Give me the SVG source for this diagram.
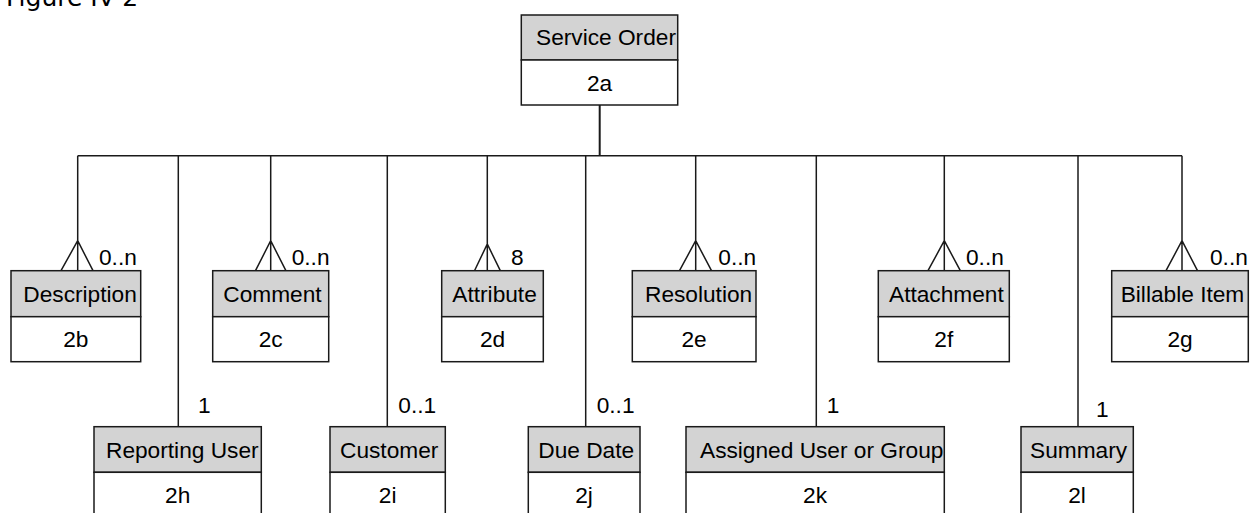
<svg xmlns="http://www.w3.org/2000/svg" width="1250" height="513" viewBox="0 0 1250 513">
<style>
.hd{fill:#d3d3d3;stroke:#1a1a1a;stroke-width:1.5}
.bd{fill:#fff;stroke:#1a1a1a;stroke-width:1.5}
.t{font-family:"Liberation Sans",Arial,sans-serif;font-size:22.7px;fill:#000}
.c{text-anchor:middle}
.ln{fill:none;stroke:#1a1a1a;stroke-width:1.5}
.title{font-family:"DejaVu Sans",Verdana,sans-serif;font-size:25px;fill:#000}
</style>
<text class="title" x="6" y="6">Figure IV-2</text>
<g id="connectors">
<path class="ln" d="M599.7 105 V155.7" style="stroke-width:2"/>
<path class="ln" d="M77.7 155.7 H1182"/>
<path class="ln" d="M77.7 155.7 V270.7 M61 270.7 L77.7 240.7 L93 270.7"/>
<path class="ln" d="M270.7 155.7 V270.7 M255.5 270.7 L270.7 240.7 L285.9 270.7"/>
<path class="ln" d="M487.3 155.7 V270.7 M474.5 270.7 L487.3 244 L500.3 270.7"/>
<path class="ln" d="M695.7 155.7 V270.7 M679.5 270.7 L695.7 240.7 L711.5 270.7"/>
<path class="ln" d="M944.3 155.7 V270.7 M928 270.7 L944.3 240.7 L960.3 270.7"/>
<path class="ln" d="M1182 155.7 V270.7 M1166 270.7 L1182 240.7 L1197.5 270.7"/>
<path class="ln" d="M178.3 155.7 V426.7"/>
<path class="ln" d="M387.3 155.7 V426.7"/>
<path class="ln" d="M585.7 155.7 V426.7"/>
<path class="ln" d="M816.3 155.7 V426.7"/>
<path class="ln" d="M1078 155.7 V426.7"/>
<text class="t" x="99" y="265">0..n</text>
<text class="t" x="291.7" y="265">0..n</text>
<text class="t" x="511" y="265">8</text>
<text class="t" x="718.3" y="265">0..n</text>
<text class="t" x="966" y="265">0..n</text>
<text class="t" x="1210" y="265">0..n</text>
<text class="t" x="198" y="413">1</text>
<text class="t" x="398.3" y="413">0..1</text>
<text class="t" x="596.7" y="413">0..1</text>
<text class="t" x="826.7" y="413">1</text>
<text class="t" x="1096" y="416.5">1</text>
</g>
<g id="n2a">
<rect class="hd" x="521.3" y="15" width="156.4" height="45"/>
<rect class="bd" x="521.3" y="60" width="156.4" height="45"/>
<text class="t" x="536" y="45">Service Order</text>
<text class="t c" x="599.5" y="90.5">2a</text>
</g>
<g id="n2b">
<rect class="hd" x="11" y="270.7" width="129.7" height="46"/>
<rect class="bd" x="11" y="316.7" width="129.7" height="45"/>
<text class="t" x="23.3" y="301.5">Description</text>
<text class="t c" x="75.8" y="347">2b</text>
</g>
<g id="n2c">
<rect class="hd" x="212.7" y="270.7" width="116" height="46"/>
<rect class="bd" x="212.7" y="316.7" width="116" height="45"/>
<text class="t" x="223.3" y="301.5">Comment</text>
<text class="t c" x="270.7" y="347">2c</text>
</g>
<g id="n2d">
<rect class="hd" x="441.7" y="270.7" width="101.6" height="46"/>
<rect class="bd" x="441.7" y="316.7" width="101.6" height="45"/>
<text class="t" x="452.3" y="301.5">Attribute</text>
<text class="t c" x="492.5" y="347">2d</text>
</g>
<g id="n2e">
<rect class="hd" x="632.3" y="270.7" width="123.7" height="46"/>
<rect class="bd" x="632.3" y="316.7" width="123.7" height="45"/>
<text class="t" x="645" y="301.5">Resolution</text>
<text class="t c" x="694" y="347">2e</text>
</g>
<g id="n2f">
<rect class="hd" x="878.3" y="270.7" width="131" height="46"/>
<rect class="bd" x="878.3" y="316.7" width="131" height="45"/>
<text class="t" x="889" y="301.5">Attachment</text>
<text class="t c" x="943.8" y="347">2f</text>
</g>
<g id="n2g">
<rect class="hd" x="1111.7" y="270.7" width="136.6" height="46"/>
<rect class="bd" x="1111.7" y="316.7" width="136.6" height="45"/>
<text class="t" x="1120.7" y="301.5">Billable Item</text>
<text class="t c" x="1180" y="347">2g</text>
</g>
<g id="n2h">
<rect class="hd" x="94" y="426.7" width="167.3" height="45.6"/>
<rect class="bd" x="94" y="472.3" width="167.3" height="46"/>
<text class="t" x="106" y="457.5">Reporting User</text>
<text class="t c" x="177.7" y="503">2h</text>
</g>
<g id="n2i">
<rect class="hd" x="330" y="426.7" width="115.3" height="45.6"/>
<rect class="bd" x="330" y="472.3" width="115.3" height="46"/>
<text class="t" x="340" y="457.5">Customer</text>
<text class="t c" x="387.7" y="503">2i</text>
</g>
<g id="n2j">
<rect class="hd" x="528.3" y="426.7" width="111.7" height="45.6"/>
<rect class="bd" x="528.3" y="472.3" width="111.7" height="46"/>
<text class="t" x="538.3" y="457.5">Due Date</text>
<text class="t c" x="584" y="503">2j</text>
</g>
<g id="n2k">
<rect class="hd" x="686" y="426.7" width="258.3" height="45.6"/>
<rect class="bd" x="686" y="472.3" width="258.3" height="46"/>
<text class="t" x="700" y="457.5">Assigned User or Group</text>
<text class="t c" x="815" y="503">2k</text>
</g>
<g id="n2l">
<rect class="hd" x="1021" y="426.7" width="112.3" height="45.6"/>
<rect class="bd" x="1021" y="472.3" width="112.3" height="46"/>
<text class="t" x="1030" y="457.5">Summary</text>
<text class="t c" x="1077" y="503">2l</text>
</g>
</svg>
